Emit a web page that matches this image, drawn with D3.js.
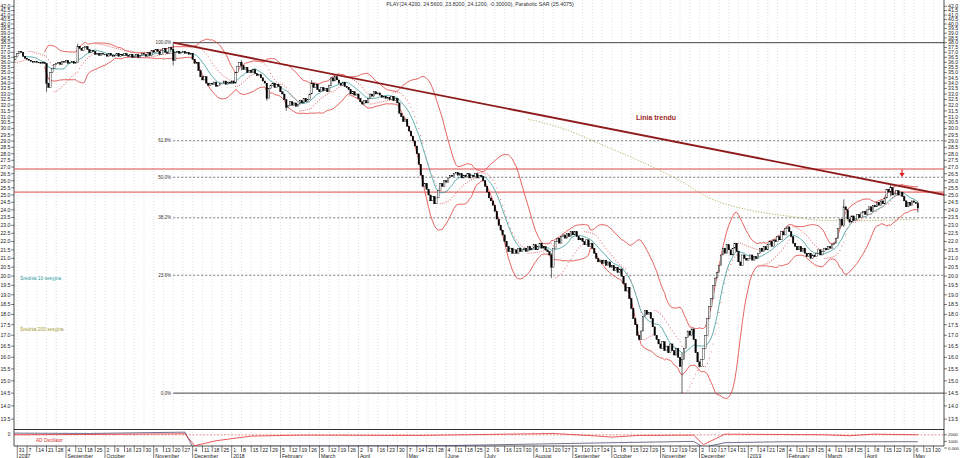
<!DOCTYPE html>
<html><head><meta charset="utf-8">
<script src="https://cdn.jsdelivr.net/npm/d3@7"></script>
<style>body{margin:0;background:#fff}svg{display:block}text{font-family:'Liberation Sans',Arial,sans-serif}</style>
</head><body><svg id="c" width="960" height="458"></svg>
<script>
// ---------------- DATA ----------------
const startMonday = "2017-07-24";           // first row = week of this Monday
// daily closes, one row per week (Mon..Fri)
const weekCloses = [
 [36.2,36.4,36.0,36.3,36.6],[36.9,37.1,37.0,36.6,36.4],[36.3,36.2,36.1,36.0,36.1],[36.0,36.0,35.9,36.0,35.9],
 [34.0,33.6,35.0,35.4,35.8],[35.9,36.0,35.8,36.1,36.0],[36.2,35.9,36.0,36.1,35.9],[36.0,37.6,37.4,37.2,37.5],
 [37.6,37.3,37.0,37.2,37.1],[36.8,36.9,36.7,36.9,36.8],[36.8,36.6,36.9,36.7,36.6],[36.7,36.9,36.6,36.8,36.7],
 [36.9,36.7,36.6,36.8,36.5],[36.6,36.8,36.5,36.7,36.9],[36.8,36.6,37.0,36.7,37.2],[37.0,37.3,37.1,36.8,37.2],
 [37.4,37.0,36.9,37.5,37.3],[36.2,37.0,37.1,36.9,37.0],[37.1,36.9,37.0,36.8,36.9],[36.3,35.9,36.0,35.2,34.6],
 [34.3,34.6,34.0,33.8,34.0],[33.9,34.1,33.7,33.8,34.0],[34.0,34.2,33.9,34.1,34.0],[34.2,34.0,35.0,35.6,36.0],
 [35.7,35.3,35.5,35.0,35.2],[35.0,35.3,34.9,34.7,34.8],[34.5,34.2,34.0,32.6,33.5],[33.8,34.0,33.6,33.9,33.7],
 [33.2,33.0,32.5,31.8,32.0],[32.3,32.0,32.2,31.9,32.1],[32.4,32.2,32.6,32.3,32.5],[33.0,34.0,33.6,33.9,33.4],
 [33.2,33.6,33.3,33.5,33.2],[33.8,34.5,34.2,34.6,34.3],[34.0,33.8,34.1,33.7,33.6],[33.4,33.0,33.2,32.9,33.0],
 [32.6,32.3,32.1,32.4,32.2],[32.6,33.0,32.8,33.2,33.0],[33.1,32.9,32.7,32.8,32.6],[32.7,32.5,32.8,32.4,32.6],
 [32.2,31.3,31.0,30.6,30.8],[30.2,29.8,29.4,29.0,28.6],[28.0,27.2,26.4,25.6,25.8],[25.4,25.0,24.6,24.9,24.4],
 [24.8,25.3,25.8,25.6,26.0],[25.9,26.2,26.4,26.3,26.5],[26.6,26.4,26.5,26.2,26.4],[26.3,26.5,26.2,26.4,26.3],
 [26.5,26.2,26.4,26.3,26.0],[25.6,25.2,24.8,24.6,24.3],[23.9,23.4,23.0,22.7,22.4],[22.0,21.7,21.4,21.6,21.3],
 [21.5,21.3,21.6,21.4,21.5],[21.6,21.4,21.7,21.5,21.6],[21.8,21.5,21.7,21.9,21.6],[21.7,21.5,21.4,21.2,20.5],
 [21.6,22.0,22.2,21.9,22.3],[22.4,22.2,22.5,22.3,22.6],[22.4,22.6,22.3,22.1,22.2],[22.0,21.8,22.1,21.7,21.9],
 [21.6,21.3,21.0,20.8,20.9],[20.7,20.9,20.6,20.8,20.5],[20.6,20.3,20.5,20.2,20.4],[20.0,19.6,19.2,19.4,18.8],
 [18.3,17.8,17.5,17.0,16.8],[17.2,17.9,18.2,18.0,18.1],[17.8,17.4,17.0,16.8,16.6],[16.4,16.7,16.3,16.5,16.2],
 [16.6,16.3,16.1,16.4,16.0],[15.6,15.9,16.4,16.9,17.2],[17.0,17.3,16.8,16.2,15.8],[15.6,15.9,16.4,17.0,17.8],
 [18.4,18.8,19.5,19.9,20.2],[20.6,21.2,21.6,21.3,21.8],[21.5,21.2,21.6,21.9,21.4],[20.8,20.6,21.2,21.0,20.9],
 [21.0,21.2,20.9,21.1,21.0],[21.3,21.6,21.4,21.7,21.5],[21.8,22.0,21.7,22.1,22.0],[22.3,22.1,22.6,22.4,22.8],
 [22.9,22.6,22.3,21.9,21.7],[21.5,21.7,21.4,21.6,21.3],[21.1,21.3,21.0,21.2,21.1],[21.3,21.5,21.2,21.4,21.6],
 [21.5,21.7,21.6,21.8,21.9],[22.2,22.8,23.4,23.0,24.2],[24.0,23.4,23.2,23.6,23.3],[23.4,23.7,23.5,23.8,23.9],
 [23.7,24.0,24.2,23.9,24.3],[24.2,24.5,24.3,24.6,24.4],[24.8,25.4,25.2,25.5,25.0],[25.1,25.3,25.0,25.2,24.9],
 [24.6,24.2,24.5,24.3,24.6],[24.5,24.42,24.12]
];
// notable wicks: [day index from start, high, low]
const wicks = [[20,34.4,33.2],[36,37.9,36.0],[85,38.0,35.7],[120,36.2,35.2],[133,34.0,32.4],[143,32.3,31.5],
 [156,34.3,33.0],[279,21.3,19.9],[346,16.2,14.5],[429,24.7,22.9],[453,25.7,24.9],[467,24.56,23.82]];
// 200-session average
const ma200 = [["2018-08-01",30.8],["2018-08-27",30.0],["2018-09-24",28.7],["2018-10-22",27.4],["2018-11-19",26.0],
 ["2018-12-10",24.8],["2019-01-07",24.0],["2019-02-04",23.6],["2019-03-04",23.3],["2019-04-01",23.3],["2019-05-08",23.4]];
const fibLevels = [["100.0%",38.0],["61.8%",29.02],["50.0%",26.25],["38.2%",23.48],["23.6%",20.05],["0.0%",14.5]];
const fibSolid = ["100.0%","0.0%"];
const redLevels = [26.85, 25.2];
const trendPts = [[85,38.0],[453,25.75]];   // [day index, price]
const oscRed = [["2017-07-27",2000],["2017-09-15",2050],["2017-11-28",2150],["2017-12-05",350],["2017-12-20",1100],
 ["2018-01-15",1800],["2018-02-20",1950],["2018-05-15",1900],["2018-08-20",2200],["2018-09-20",1800],["2018-10-01",1650],
 ["2018-10-20",1900],["2018-11-28",1950],["2018-12-05",500],["2018-12-20",2100],["2019-03-01",2000],["2019-03-20",1850],
 ["2019-04-05",2100],["2019-05-08",2000]];
const oscDark = [["2017-07-27",2250],["2017-09-20",2200],["2017-11-28",2400],["2017-12-04",150],["2017-12-20",250],
 ["2018-06-01",350],["2018-10-01",800],["2018-11-28",1000],["2018-12-05",100],["2018-12-20",800],["2019-02-01",950],["2019-05-08",950]];
const yTickLabels = d3.range(26,85).map(k=>(k/2).toFixed(1)).reverse().filter(s=>+s>=13.5&&+s<=42);
const oscTickLabels = [["2000",2000],["1000",1000],["0.000",0]];
const monthNames = ["2019","February","March","April","May","June","July","August","September","October","November","December"];
const title = "PLAY(24.4200, 24.5600, 23.8200, 24.1200, -0.30000), Parabolic SAR (25.4075)";

// ---------------- SETUP ----------------
const svg = d3.select('#c');
const X0=14, X1=944, YB=429.5, PB=446;
const t0 = new Date(startMonday+"T00:00:00");
const wd = d => { const days=Math.round((d-t0)/864e5); return Math.floor(days/7)*5+Math.min(days%7,4); };
const pd = s => new Date(s+"T00:00:00");
const x = d3.scaleLinear().domain([3.33,480.4]).range([X0,X1]);
const y = d3.scaleLog().domain([13.12,42.73]).range([YB,0]);
const yo = d3.scaleLinear().domain([0,2800]).range([448,YB]);

const closes = weekCloses.flat();
const N = closes.length;
const bars = closes.map((c,i)=>{const o=i?closes[i-1]:c; return {i,o,c,h:Math.max(o,c),l:Math.min(o,c)};});
wicks.forEach(([i,h,l])=>{bars[i].h=h;bars[i].l=l;});

// indicators
const sma = (n)=>closes.map((c,i)=> i<n-1?null:d3.mean(closes.slice(i-n+1,i+1)));
const ma10 = sma(10), mid20 = sma(20);
const sd20 = closes.map((c,i)=> i<19?null:d3.deviation(closes.slice(i-19,i+1))*Math.sqrt(19/20));
function psar(){const out=[null];let up=true,af=0.02,ep=bars[0].h,s=bars[0].l;
 for(let i=1;i<N;i++){s=s+af*(ep-s);
  if(up){s=Math.min(s,bars[i-1].l,bars[Math.max(i-2,0)].l);
   if(bars[i].l<s){up=false;s=ep;ep=bars[i].l;af=0.02;} else if(bars[i].h>ep){ep=bars[i].h;af=Math.min(af+0.02,0.2);} }
  else{s=Math.max(s,bars[i-1].h,bars[Math.max(i-2,0)].h);
   if(bars[i].h>s){up=true;s=ep;ep=bars[i].h;af=0.02;} else if(bars[i].l<ep){ep=bars[i].l;af=Math.min(af+0.02,0.2);} }
  out.push(s);} return out;}
const sar = psar();

// clip
const defs=svg.append('defs');
defs.append('clipPath').attr('id','mc').append('rect').attr('x',X0).attr('y',0).attr('width',X1-X0).attr('height',YB);
defs.append('clipPath').attr('id','oc').append('rect').attr('x',X0).attr('y',YB).attr('width',X1-X0).attr('height',PB-YB);

// weekly grid + date axis
const weeks = d3.range(0,100).map(w=>({w, d:new Date(t0.getTime()+w*7*864e5), px:x(w*5)})).filter(o=>o.px>=X0&&o.px<=X1-6);
svg.append('g').selectAll('line').data(weeks).join('line')
 .attr('x1',d=>d.px).attr('x2',d=>d.px).attr('y1',0).attr('y2',PB)
 .attr('stroke','#c8c8c8').attr('stroke-width',0.6).attr('stroke-dasharray','1,2');
const ax = svg.append('g');
ax.append('line').attr('x1',X0).attr('x2',X1).attr('y1',PB).attr('y2',PB).attr('stroke','#000').attr('stroke-width',0.7);
let prevM=null;
weeks.forEach((o,k)=>{
  const m=o.d.getMonth(); const newM = (prevM===null)||m!==prevM; prevM=m;
  ax.append('line').attr('x1',o.px).attr('x2',o.px).attr('y1',PB).attr('y2',newM?458:452).attr('stroke','#000').attr('stroke-width',0.5);
  ax.append('text').attr('x',o.px+1.5).attr('y',451.5).attr('font-size',5.2).attr('fill','#222').text(o.d.getDate());
  if(newM){ const lbl = (k===0||m===0)? String(o.d.getFullYear()) : monthNames[m];
    if(!(k>0 && m===7 && o.d.getFullYear()===2017)) ax.append('text').attr('x',o.px+1.5).attr('y',457.5).attr('font-size',5.2).attr('fill','#222').text(lbl); }
});

// y axes
svg.append('line').attr('x1',X0).attr('x2',X0).attr('y1',0).attr('y2',PB).attr('stroke','#000').attr('stroke-width',0.7);
svg.append('line').attr('x1',X1).attr('x2',X1).attr('y1',0).attr('y2',PB).attr('stroke','#000').attr('stroke-width',0.7);
const ya = svg.append('g');
yTickLabels.forEach(s=>{ const py=y(+s);
  ya.append('line').attr('x1',X1).attr('x2',X1+3).attr('y1',py).attr('y2',py).attr('stroke','#000').attr('stroke-width',0.5);
  ya.append('line').attr('x1',X0-3).attr('x2',X0).attr('y1',py).attr('y2',py).attr('stroke','#000').attr('stroke-width',0.5);
  ya.append('text').attr('x',X1+4).attr('y',py+1.8).attr('font-size',5.2).attr('fill','#222').text(s);
  ya.append('text').attr('x',X0-3.5).attr('y',py+1.8).attr('text-anchor','end').attr('font-size',5.2).attr('fill','#222').text(s);
});
svg.append('line').attr('x1',X0).attr('x2',X1).attr('y1',YB).attr('y2',YB).attr('stroke','#000').attr('stroke-width',0.8);

// title
svg.append('text').attr('x',480).attr('y',5.5).attr('text-anchor','middle').attr('font-size',5.3).attr('fill','#333').text(title);

const main = svg.append('g').attr('clip-path','url(#mc)');
// red horizontal levels
main.selectAll('line.rl').data(redLevels).join('line').attr('class','rl')
 .attr('x1',X0).attr('x2',X1).attr('y1',d=>y(d)).attr('y2',d=>y(d)).attr('stroke','#e04848').attr('stroke-width',1);
// fibonacci
const fx = x(trendPts[0][0]);
fibLevels.forEach(([lab,v])=>{
  const solid = fibSolid.includes(lab);
  main.append('line').attr('x1',fx).attr('x2',X1).attr('y1',y(v)).attr('y2',y(v))
   .attr('stroke',solid?'#444':'#555').attr('stroke-width',solid?1:0.8).attr('stroke-dasharray',solid?null:'2,2');
  main.append('text').attr('x',fx-2).attr('y',y(v)+1.5).attr('text-anchor','end').attr('font-size',4.6).attr('fill','#333').text(lab);
});
// MA200
main.append('path').datum(ma200).attr('fill','none').attr('stroke','#b3aa55').attr('stroke-width',0.9).attr('stroke-dasharray','1.2,1.6')
 .attr('d',d3.line().x(d=>x(wd(pd(d[0])))).y(d=>y(d[1])).curve(d3.curveMonotoneX));
// bollinger
const lineOf = arr => d3.line().defined(d=>d.v!=null).x(d=>x(d.i)).y(d=>y(d.v))(arr);
const up = closes.map((c,i)=>({i,v:mid20[i]==null?null:mid20[i]+2*sd20[i]}));
const lo = closes.map((c,i)=>({i,v:mid20[i]==null?null:mid20[i]-2*sd20[i]}));
main.append('path').attr('d',lineOf(up)).attr('fill','none').attr('stroke','#e03c3c').attr('stroke-width',0.8);
main.append('path').attr('d',lineOf(lo)).attr('fill','none').attr('stroke','#e03c3c').attr('stroke-width',0.8);
// MA10
main.append('path').attr('d',lineOf(closes.map((c,i)=>({i,v:ma10[i]})))).attr('fill','none').attr('stroke','#3a9a9a').attr('stroke-width',0.8);
// SAR
main.selectAll('rect.sar').data(sar.map((v,i)=>({i,v})).filter(d=>d.v!=null)).join('rect').attr('class','sar')
 .attr('x',d=>x(d.i)-0.5).attr('y',d=>y(d.v)-0.5).attr('width',1).attr('height',1).attr('fill','#e07a7a');
// candles
const cg = main.append('g');
cg.selectAll('line').data(bars).join('line').attr('x1',d=>x(d.i)).attr('x2',d=>x(d.i)).attr('y1',d=>y(d.h)).attr('y2',d=>y(d.l))
 .attr('stroke','#000').attr('stroke-width',0.6);
cg.selectAll('rect').data(bars).join('rect').attr('x',d=>x(d.i)-0.75).attr('width',1.5)
 .attr('y',d=>y(Math.max(d.o,d.c))).attr('height',d=>Math.max(0.6,y(Math.min(d.o,d.c))-y(Math.max(d.o,d.c))))
 .attr('fill',d=>d.c<d.o?'#000':'#fff').attr('stroke','#000').attr('stroke-width',0.4);
// trend line
const tslope = (Math.log(trendPts[1][1])-Math.log(trendPts[0][1]))/(trendPts[1][0]-trendPts[0][0]);
const tEnd = x.invert(X1);
main.append('line').attr('x1',x(trendPts[0][0])).attr('y1',y(trendPts[0][1]))
 .attr('x2',X1).attr('y2',y(Math.exp(Math.log(trendPts[0][1])+tslope*(tEnd-trendPts[0][0]))))
 .attr('stroke','#8e1b1b').attr('stroke-width',1.8);
svg.append('text').attr('x',636).attr('y',120).attr('font-size',7).attr('font-weight','bold').attr('fill','#9a2a2a').text('Linia trendu');
// arrow
const ag = svg.append('g').attr('fill','#e02020').attr('stroke','#e02020');
ag.append('line').attr('x1',902).attr('x2',902).attr('y1',169.5).attr('y2',174).attr('stroke-width',1.2);
ag.append('path').attr('d','M899.3,173 L904.7,173 L902,177 Z').attr('stroke','none');
// legend texts
svg.append('text').attr('x',20).attr('y',280).attr('font-size',4.8).attr('fill','#2a9a9a').text('Średnia 10 sesyjna');
svg.append('text').attr('x',20).attr('y',331).attr('font-size',4.8).attr('fill','#a49a30').text('Średnia 200 sesyjna');

// oscillator panel
const og = svg.append('g').attr('clip-path','url(#oc)');
const ol = d3.line().x(d=>x(wd(pd(d[0])))).y(d=>yo(d[1]));
og.append('line').attr('x1',X0).attr('x2',X1).attr('y1',yo(2000)).attr('y2',yo(2000)).attr('stroke','#e04848').attr('stroke-width',0.6).attr('stroke-dasharray','2,1.5');
og.append('path').datum(oscDark).attr('d',ol).attr('fill','none').attr('stroke','#333366').attr('stroke-width',0.7);
og.append('path').datum(oscRed).attr('d',ol).attr('fill','none').attr('stroke','#e03030').attr('stroke-width',0.8);
svg.append('text').attr('x',36).attr('y',442).attr('font-size',4.6).attr('fill','#e03030').text('AD Oscillator');
oscTickLabels.forEach(([s,v])=>{
  svg.append('line').attr('x1',X1).attr('x2',X1+3).attr('y1',yo(v)).attr('y2',yo(v)).attr('stroke','#000').attr('stroke-width',0.5);
  svg.append('text').attr('x',X1+4).attr('y',yo(v)+1.5).attr('font-size',4.4).attr('fill','#222').text(s);
});
svg.append('text').attr('x',X0-3.5).attr('y',yo(2000)+1.6).attr('text-anchor','end').attr('font-size',4.8).attr('fill','#222').text('0');
</script></body></html>
